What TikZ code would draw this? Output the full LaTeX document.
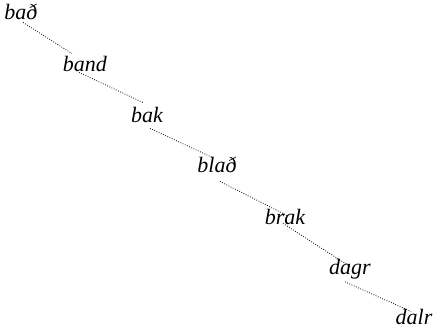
\documentclass[tikz,border=0pt]{standalone}
\usepackage{fontspec}
\setmainfont{Liberation Serif}
\usetikzlibrary{calc}
\begin{document}
\begin{tikzpicture}[x=1pt,y=1pt,
  word/.style={inner sep=0pt,anchor=base,font=\fontsize{22}{24}\selectfont\itshape},
  link/.style={draw=black,line width=0.8pt,dash pattern=on 0.8pt off 1.6pt}]
\useasboundingbox (0,0) rectangle (437,-336);
\node[word] (n1) at (21,-20) {bað};
\node[word] (n2) at (85,-72) {band};
\node[word] (n3) at (147,-123) {bak};
\node[word] (n4) at (217,-173) {blað};
\node[word] (n5) at (285,-225) {brak};
\node[word] (n6) at (350,-275) {dagr};
\node[word] (n7) at (414,-325) {dalr};
\draw[link] ($(n1.south)+(2,-2)$) -- ($(n2.north)+(-13,3)$);
\draw[link] ($(n2.south)+(-6,0)$) -- ($(n3.north)+(-4,5)$);
\draw[link] ($(n3.south)+(3,-5)$) -- ($(n4.north)+(-5,0)$);
\draw[link] ($(n4.south)+(3,-8)$) -- ($(n5.north)+(2,-6)$);
\draw[link] ($(n5.south)+(-2,2)$) -- ($(n6.north)+(0,-7)$);
\draw[link] ($(n6.south)+(-5,-2)$) -- ($(n7.north)+(-3,-2)$);
\end{tikzpicture}
\end{document}
